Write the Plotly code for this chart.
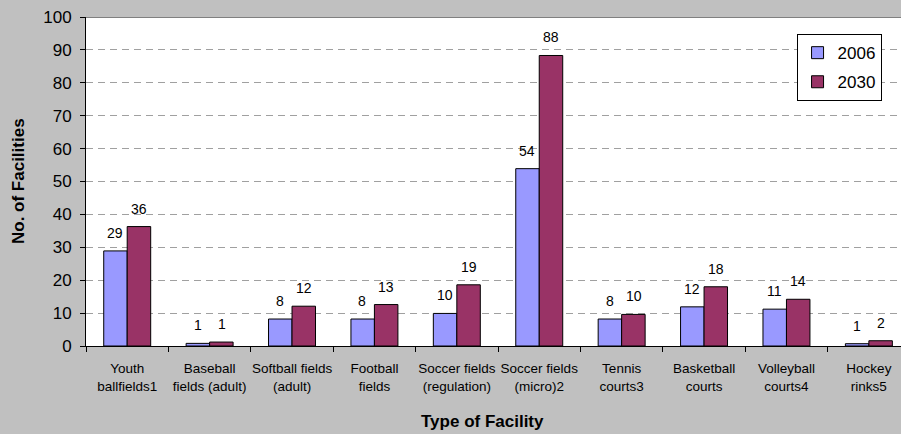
import plotly.graph_objects as go

categories = ["Youth<br>ballfields1", "Baseball<br>fields (adult)", "Softball fields<br>(adult)",
              "Football<br>fields", "Soccer fields<br>(regulation)", "Soccer fields<br>(micro)2",
              "Tennis<br>courts3", "Basketball<br>courts", "Volleyball<br>courts4", "Hockey<br>rinks5"]
values_2006 = [28.9, 0.8, 8.2, 8.2, 9.9, 53.9, 8.2, 11.9, 11.2, 0.7]
values_2030 = [36.3, 1.2, 12.1, 12.6, 18.6, 88.3, 9.6, 18.0, 14.2, 1.6]
labels_2006 = ["29", "1", "8", "8", "10", "54", "8", "12", "11", "1"]
labels_2030 = ["36", "1", "12", "13", "19", "88", "10", "18", "14", "2"]

BG = "#c0c0c0"
fig = go.Figure()
fig.add_trace(go.Bar(name="2006", x=categories, y=values_2006,
                     marker=dict(color="#9999ff", line=dict(color="black", width=1)),
                     legendgroup="a"))
fig.add_trace(go.Bar(name="2030", x=categories, y=values_2030,
                     marker=dict(color="#993366", line=dict(color="black", width=1)),
                     legendgroup="b"))

for cat, v, t in zip(categories, values_2006, labels_2006):
    fig.add_annotation(x=cat, y=v, text=t, showarrow=False, xshift=-12, yshift=8,
                       yanchor="bottom", font=dict(size=14, color="black", family="Liberation Sans"))
for cat, v, t in zip(categories, values_2030, labels_2030):
    fig.add_annotation(x=cat, y=v, text=t, showarrow=False, xshift=12, yshift=8,
                       yanchor="bottom", font=dict(size=14, color="black", family="Liberation Sans"))

fig.add_annotation(xref="paper", yref="paper", x=0.486, y=-0.23, text="<b>Type of Facility</b>",
                   showarrow=False, xanchor="center", yanchor="middle",
                   font=dict(size=17, color="black", family="Liberation Sans"))
fig.add_annotation(xref="paper", yref="paper", x=-0.0834, y=0.5015, text="<b>No. of Facilities</b>",
                   showarrow=False, textangle=-90, xanchor="center", yanchor="middle",
                   font=dict(size=17, color="black", family="Liberation Sans"))

fig.add_shape(type="line", xref="paper", yref="y", x0=0, x1=1, y0=100, y1=100,
              line=dict(color="#808080", width=2))

fig.update_layout(
    width=901, height=434,
    margin=dict(l=86, r=0, t=17, b=88),
    paper_bgcolor=BG, plot_bgcolor="white",
    barmode="group", bargap=0.43, bargroupgap=0,
    font=dict(family="Liberation Sans", color="black"),
    showlegend=True,
    legend=dict(x=0.924, y=0.948, xanchor="center", yanchor="top",
                bgcolor="white", bordercolor="black", borderwidth=1,
                font=dict(size=17, color="black"), tracegroupgap=4, itemwidth=30),
    xaxis=dict(type="category", range=[-0.5, 9.39], showline=True, linecolor="black", linewidth=1,
               ticks="outside", tickson="boundaries", ticklen=5, tickcolor="black",
               showgrid=False, tickangle=0, tickfont=dict(size=13.5, family="Liberation Sans"),
               ticklabelstandoff=10),
    yaxis=dict(range=[0, 100], dtick=10, showline=True, linecolor="black", linewidth=1,
               ticks="outside", ticklen=5, tickcolor="black",
               showgrid=True, gridcolor="#a0a0a0", griddash="7px,5px", gridwidth=1,
               zeroline=False, tickfont=dict(size=17), ticklabelstandoff=5),
)

fig.write_html("out.html", config={"displayModeBar": False},
               post_script="document.body.style.margin='0';")
